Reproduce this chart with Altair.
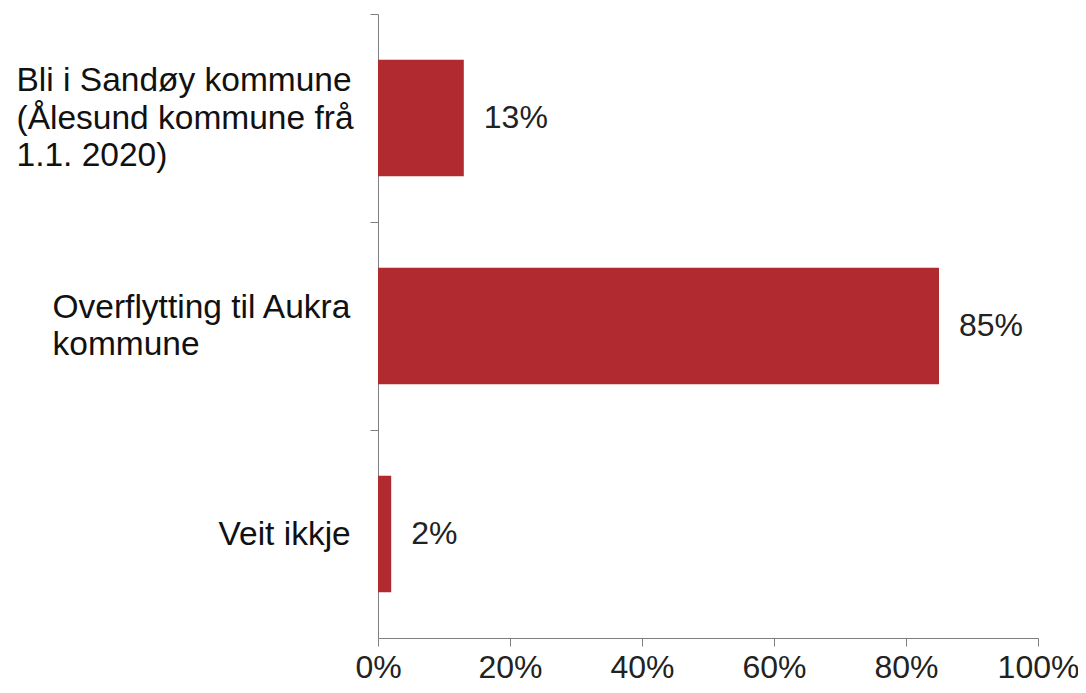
import altair as alt
import pandas as pd

categories = [
    "Bli i Sandøy kommune\n(Ålesund kommune frå\n1.1. 2020)",
    "Overflytting til Aukra\nkommune",
    "Veit ikkje",
]
values = [0.13, 0.85, 0.02]
value_labels = ["13%", "85%", "2%"]
x_ticks = [0, 0.2, 0.4, 0.6, 0.8, 1.0]

df = pd.DataFrame({"kat": categories, "verdi": values, "tekst": value_labels})

FONT = "Liberation Sans"
BAR = "#b02a2f"
AXC = "#7f7f7f"
LINE_H = 37.5
W, H = 660, 624
STEP = H / 3

pad_expr = (
    "(datum && datum.value && indexof(datum.value,'Bli')==0) ? 354 : "
    "((datum && datum.value && indexof(datum.value,'Over')==0) ? 318 : 152)"
)
off_expr = (
    "(datum && datum.value) ? %s - (length(split(datum.value,'\\n'))-1)*%s/2 : %s"
    % (STEP / 2, LINE_H, STEP / 2)
)

y_enc = alt.Y(
    "kat:N",
    sort=categories,
    title=None,
    scale=alt.Scale(paddingInner=0.44, paddingOuter=0.22),
    axis=alt.Axis(
        labelExpr="split(datum.label, '\\n')",
        labelAlign="left",
        labelBaseline="middle",
        labelPadding={"expr": pad_expr},
        labelOffset={"expr": off_expr},
        labelFont=FONT,
        labelFontSize=33.5,
        labelLineHeight=LINE_H,
        labelColor="#111111",
        labelLimit=600,
        tickOffset=-STEP / 2,
        tickSize=8,
        tickColor=AXC,
        domainColor=AXC,
        grid=False,
    ),
)

x_enc = alt.X(
    "verdi:Q",
    title=None,
    scale=alt.Scale(domain=[0, 1], nice=False),
    axis=alt.Axis(
        orient="bottom",
        values=x_ticks,
        format=".0%",
        labelFont=FONT,
        labelFontSize=32,
        labelColor="#222222",
        labelPadding=6,
        tickSize=8,
        tickColor=AXC,
        domainColor=AXC,
        grid=False,
        labelFlush=False,
    ),
)

base = alt.Chart(df).encode(y=y_enc, x=x_enc)
bars = base.mark_bar(color=BAR)
labels = base.mark_text(
    align="left", baseline="middle", dx=20, font=FONT, fontSize=32, color="#222222"
).encode(text="tekst:N")

chart = (
    alt.layer(bars, labels)
    .properties(
        width=W,
        height=H,
        autosize=alt.AutoSizeParams(type="none"),
        padding={"left": 370, "top": 6, "right": 40, "bottom": 47},
    )
    .configure(background="white")
    .configure_view(stroke=None)
)

chart.save("out.html", embed_options={"renderer": "svg", "actions": False})
